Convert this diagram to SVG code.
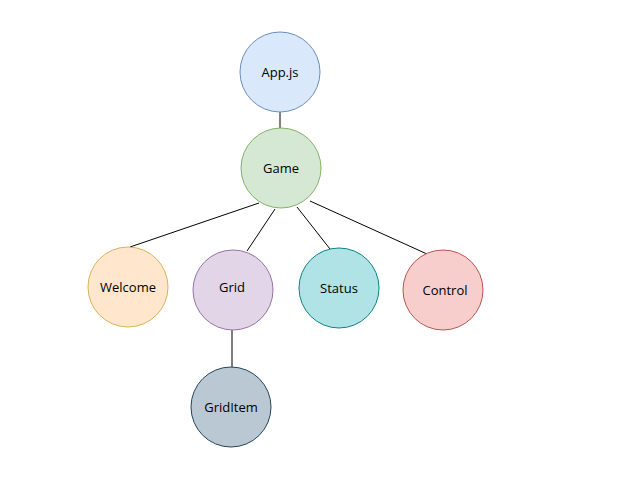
<svg xmlns="http://www.w3.org/2000/svg" width="621" height="480" viewBox="0 0 621 480">
<style>
.n circle{stroke-width:1}
.n text{font-family:"Open Sans","Liberation Sans",sans-serif;font-size:13px;fill:#000;text-anchor:middle;dominant-baseline:central}
#edges line{stroke:#000;stroke-width:1}
</style>
<rect width="621" height="480" fill="#fff"/>
<g id="edges">
<line x1="280" y1="112" x2="280" y2="128"/>
<line x1="259" y1="203" x2="130" y2="247"/>
<line x1="275" y1="209" x2="247" y2="251"/>
<line x1="297" y1="207" x2="330" y2="249"/>
<line x1="310" y1="201" x2="427" y2="254"/>
<line x1="232" y1="330" x2="232" y2="367"/>
</g>
<g id="app" class="n"><circle cx="280" cy="72" r="40" fill="#dae8fc" stroke="#6c8ebf"/><text x="280" y="72">App.js</text></g>
<g id="game" class="n"><circle cx="281" cy="168" r="40" fill="#d5e8d4" stroke="#82b366"/><text x="281" y="168">Game</text></g>
<g id="welcome" class="n"><circle cx="128" cy="287" r="40" fill="#ffe6cc" stroke="#d6b656"/><text x="128" y="287">Welcome</text></g>
<g id="grid" class="n"><circle cx="233" cy="290" r="40" fill="#e1d5e7" stroke="#9673a6"/><text x="232" y="287">Grid</text></g>
<g id="status" class="n"><circle cx="339" cy="288" r="40" fill="#b0e3e6" stroke="#0e8088"/><text x="339" y="288">Status</text></g>
<g id="control" class="n"><circle cx="443" cy="290" r="40" fill="#f8cecc" stroke="#b85450"/><text x="445" y="290">Control</text></g>
<g id="griditem" class="n"><circle cx="231" cy="407" r="40" fill="#bac8d3" stroke="#23445d"/><text x="231" y="407">GridItem</text></g>
</svg>
